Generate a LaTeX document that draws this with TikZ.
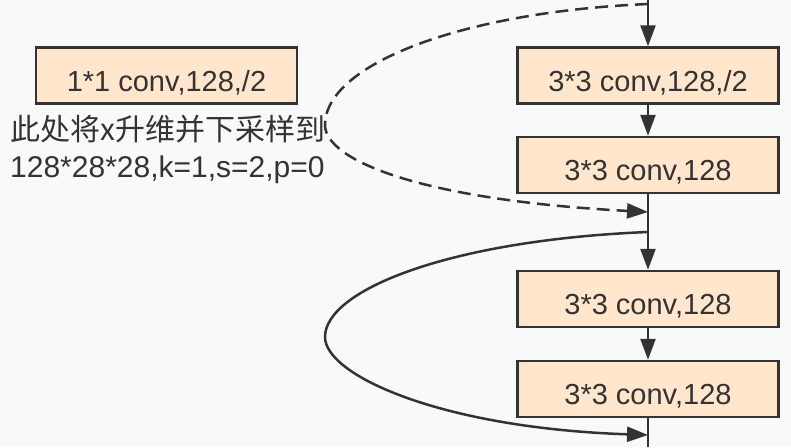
\documentclass[tikz,border=0pt]{standalone}
\usepackage{fontspec}
\setmainfont{Liberation Sans}
\newfontfamily\cjkfont{Noto Sans CJK SC}
\usetikzlibrary{arrows.meta}
\definecolor{bg}{HTML}{F9F9F9}
\definecolor{ink}{HTML}{333333}
\definecolor{boxfill}{HTML}{FFE6CC}
\begin{document}
\begin{tikzpicture}[x=1pt,y=-1pt,
  convbox/.style={draw=ink, fill=boxfill, line width=2.5pt, minimum width=261pt,
    minimum height=56pt, inner sep=0pt, text height=36pt, text depth=5pt,
    font=\fontsize{29}{35}\selectfont, text=ink},
  note/.style={inner sep=0pt, anchor=base west, text=ink, font=\fontsize{30}{36}\selectfont},
  flow/.style={draw=ink, line width=2.5pt},
  tip/.style={-{Triangle[length=21pt,width=15pt]}},
  skipline/.style={flow, dash pattern=on 13pt off 7pt}
]
\fill[bg] (0,0) rectangle (791,447);
\useasboundingbox (0,0) rectangle (791,447);

\node[convbox] (side) at (166.5,75.5) {1*1 conv,128,/2};
\node[convbox] (b1) at (648,75.5) {3*3 conv,128,/2};
\node[convbox] (b2) at (648,165) {3*3 conv,128};
\node[convbox] (b3) at (648,299) {3*3 conv,128};
\node[convbox] (b4) at (648,389) {3*3 conv,128};

\node[note] (n1) at (10,140) {\cjkfont 此处将x升维并下采样到};
\node[note] (n2) at (10,177) {128*28*28,k=1,s=2,p=0};

\coordinate (top) at (648,0);
\coordinate (bot) at (648,447);
\coordinate (ds) at (648,4);
\coordinate (de) at (648,212);
\coordinate (ss) at (648,232);
\coordinate (se) at (648,435);

\draw[flow,tip] (top) -- (b1.north);
\draw[flow,tip] (b1.south) -- (b2.north);
\draw[flow,tip] (b2.south) -- (b3.north);
\draw[flow,tip] (b3.south) -- (b4.north);
\draw[flow] (b4.south) -- (bot);

\draw[skipline,tip] (ds) .. controls (460,12) and (325,65) .. (325,125)
  .. controls (325,160) and (420,200) .. (de);
\draw[flow,tip] (ss) .. controls (450,240) and (325,290) .. (325,337)
  .. controls (325,375) and (440,428) .. (se);
\end{tikzpicture}
\end{document}
